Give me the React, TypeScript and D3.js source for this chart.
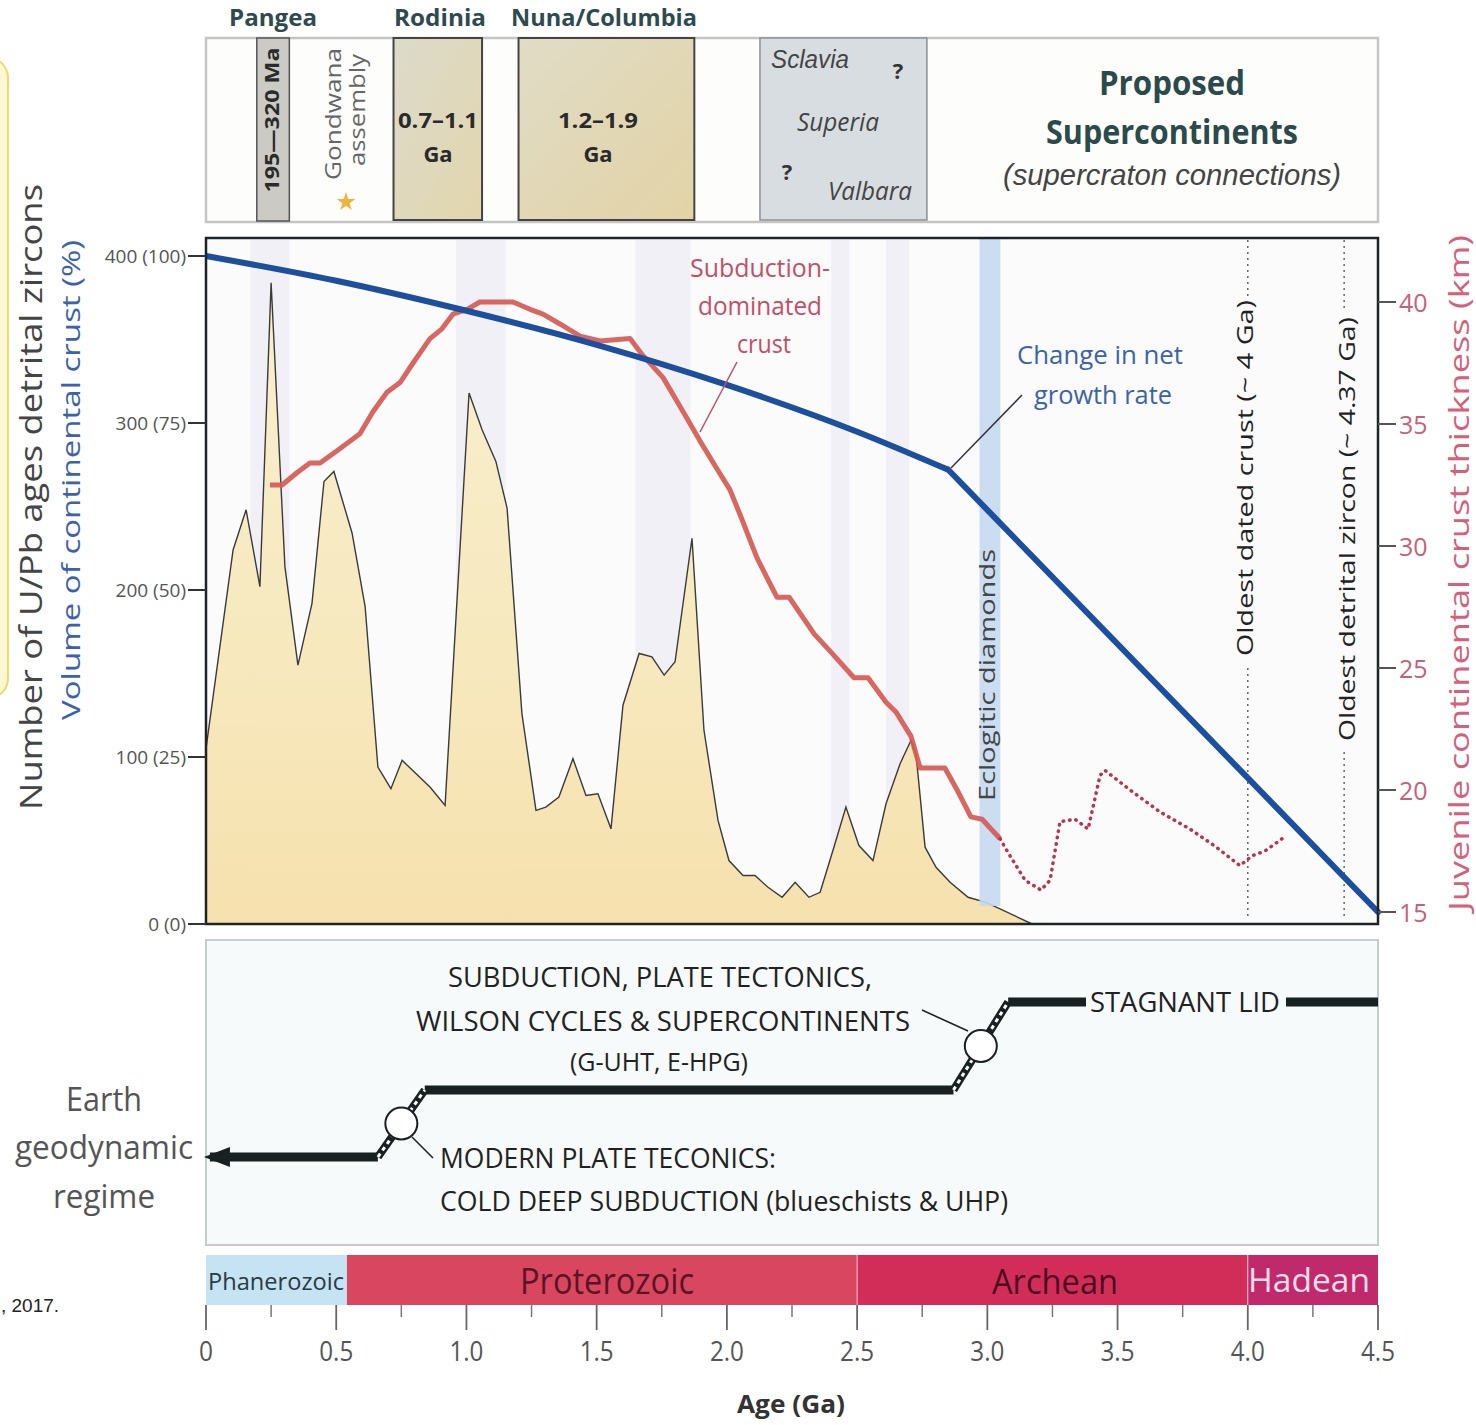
import React from "react";
import * as d3 from "d3";

// ---- data ----
const zirconAge = [0, 0.104, 0.154, 0.207, 0.25, 0.303, 0.353, 0.407, 0.453, 0.491, 0.561, 0.611, 0.66, 0.71, 0.753, 0.86, 0.918, 1.01, 1.06, 1.113, 1.156, 1.213, 1.267, 1.305, 1.355, 1.409, 1.459, 1.505, 1.555, 1.601, 1.663, 1.712, 1.759, 1.801, 1.866, 1.912, 1.966, 2.008, 2.062, 2.108, 2.158, 2.212, 2.262, 2.315, 2.358, 2.411, 2.457, 2.507, 2.561, 2.611, 2.665, 2.707, 2.726, 2.761, 2.803, 2.857, 2.926, 2.995, 3.172];
const zirconCount = [105, 224, 248, 202, 384, 214, 155, 192, 265, 271, 234, 190, 94, 81, 98, 82, 71, 318, 296, 277, 249, 126, 68, 70, 76, 99, 77, 78, 57, 131, 162, 160, 149, 157, 231, 116, 62, 38, 29, 29, 22, 16, 25, 16, 19, 46, 70, 47, 38, 72, 96, 110, 102, 46, 34, 25, 16, 13, 0];

// continental crust volume: smooth growth up to the kink, then straight
const crustAge = [0, 0.5, 1.0, 1.5, 2.0, 2.5, 2.85];
const crustPct = [100, 96.3, 91.8, 86.7, 80.7, 73.7, 68];
const crustAgeLate = [2.85, 4.5];
const crustPctLate = [68, 1.8];

const thickAge = [0.246, 0.292, 0.349, 0.399, 0.438, 0.515, 0.591, 0.641, 0.695, 0.745, 0.795, 0.86, 0.906, 0.948, 1.002, 1.052, 1.179, 1.244, 1.294, 1.359, 1.436, 1.513, 1.628, 1.678, 1.755, 1.832, 1.897, 1.954, 2.012, 2.05, 2.116, 2.192, 2.239, 2.335, 2.404, 2.488, 2.542, 2.611, 2.649, 2.707, 2.742, 2.837, 2.884, 2.937, 2.98, 3.049];
const thickKm = [32.5, 32.5, 33.0, 33.4, 33.4, 34.0, 34.6, 35.5, 36.3, 36.7, 37.5, 38.5, 38.9, 39.5, 39.7, 40.0, 40.0, 39.7, 39.5, 39.1, 38.6, 38.4, 38.5, 37.8, 36.9, 35.5, 34.3, 33.3, 32.3, 31.3, 29.5, 27.9, 27.9, 26.4, 25.6, 24.6, 24.6, 23.6, 23.2, 22.2, 20.9, 20.9, 20.0, 18.9, 18.8, 18.0];

// uncertain (dotted) part of thickness curve
const thickAgeDot = [3.049, 3.076, 3.145, 3.206, 3.241, 3.279, 3.337, 3.387, 3.433, 3.452, 3.548, 3.663, 3.778, 3.874, 3.97, 4.016, 4.066, 4.131];
const thickKmDot = [18.0, 17.5, 16.3, 15.9, 16.3, 18.7, 18.8, 18.4, 20.6, 20.8, 20.0, 19.1, 18.4, 17.7, 16.9, 17.3, 17.5, 18.0];

const bandStart = [0.17, 0.96, 1.65, 2.4, 2.61];
const bandEnd = [0.32, 1.15, 1.86, 2.47, 2.7];

const eraNames = ["Phanerozoic", "Proterozoic", "Archean", "Hadean"];
const eraStart = [0, 0.541, 2.5, 4.0];
const eraEnd = [0.541, 2.5, 4.0, 4.5];

const leftTicks = [0, 100, 200, 300, 400];
const leftTickLabels = ["0 (0)", "100 (25)", "200 (50)", "300 (75)", "400 (100)"];
const rightTicks = [15, 20, 25, 30, 35, 40];
const ageTicks = [0, 0.5, 1.0, 1.5, 2.0, 2.5, 3.0, 3.5, 4.0, 4.5];

// geodynamic regime step line
const regimeAge = [0.015, 0.66, 0.84, 2.87, 3.08, 4.5];
const regimeLevel = [0, 0, 1, 1, 2, 2];

const FONT = "'Open Sans', 'Noto Sans', sans-serif";

const x = d3.scaleLinear().domain([0, 4.5]).range([206, 1378]);
const yCount = d3.scaleLinear().domain([0, 400]).range([924, 256]);
const yPct = d3.scaleLinear().domain([0, 100]).range([924, 256]);
const yKm = d3.scaleLinear().domain([15, 40]).range([912, 302]);
const yLevel = d3.scaleOrdinal<number, number>().domain([0, 1, 2]).range([1157, 1090, 1002]);

function T(props: any) {
  const { x: tx, y: ty, rot, len, children, ...rest } = props;
  const extra: any = len ? { textLength: len, lengthAdjust: "spacingAndGlyphs" } : {};
  if (rot) {
    return (
      <text transform={`translate(${tx},${ty}) rotate(${rot})`} fontFamily={FONT} {...extra} {...rest}>
        {children}
      </text>
    );
  }
  return (
    <text x={tx} y={ty} fontFamily={FONT} {...extra} {...rest}>
      {children}
    </text>
  );
}

export default function App() {
  const zircon = zirconAge.map((a, i) => [a, zirconCount[i]] as [number, number]);
  const area = d3.area<[number, number]>().x((d) => x(d[0])).y0(yCount(0)).y1((d) => yCount(d[1]));
  const line = d3.line<[number, number]>().x((d) => x(d[0])).y((d) => yCount(d[1]));
  const crustLine = d3.line<number>().x((d, i) => x(crustAge[i])).y((d) => yPct(d)).curve(d3.curveMonotoneX);
  const crustLate = d3.line<number>().x((d, i) => x(crustAgeLate[i])).y((d) => yPct(d));
  const thickLine = d3.line<number>().x((d, i) => x(thickAge[i])).y((d) => yKm(d));
  const thickDot = d3.line<number>().x((d, i) => x(thickAgeDot[i])).y((d) => yKm(d));

  const regimePts = regimeAge.map((a, i) => [x(a), yLevel(regimeLevel[i])] as [number, number]);
  const flats: [number, number][][] = [];
  const ramps: [number, number][][] = [];
  for (let i = 0; i < regimePts.length - 1; i++) {
    const seg = [regimePts[i], regimePts[i + 1]];
    if (regimeLevel[i] === regimeLevel[i + 1]) flats.push(seg);
    else ramps.push(seg);
  }
  const minor = d3.range(0.25, 4.5, 0.5);

  return (
    <svg width={1476} height={1425} style={{ position: "absolute", left: 0, top: 0, background: "#fff" }}>
      <defs>
        <linearGradient id="zfill" x1="0" y1="0" x2="0" y2="1">
          <stop offset="0" stopColor="#f8f0d0" />
          <stop offset="0.6" stopColor="#f7e8bd" />
          <stop offset="1" stopColor="#f6e1ae" />
        </linearGradient>
        <linearGradient id="rod" x1="0" y1="0" x2="1" y2="1">
          <stop offset="0" stopColor="#dcdacb" />
          <stop offset="1" stopColor="#e2d6ad" />
        </linearGradient>
        <linearGradient id="nuna" x1="0" y1="0" x2="1" y2="1">
          <stop offset="0" stopColor="#e0dcc6" />
          <stop offset="1" stopColor="#e3d3a6" />
        </linearGradient>
      </defs>

      {/* page artifacts at left edge */}
      <rect x={-30} y={58} width={38} height={640} rx={20} fill="#fff8d2" stroke="#f3d968" strokeWidth={2} />
      <text x={1} y={1312} fontFamily="'Liberation Sans', Arial, sans-serif" fontSize={19} fill="#222">, 2017.</text>

      {/* ---- supercontinent panel ---- */}
      <T x={273} y={26} fontSize={23} fontWeight={700} fill="#2e4a4f" textAnchor="middle" len={88}>Pangea</T>
      <T x={440} y={26} fontSize={23} fontWeight={700} fill="#2e4a4f" textAnchor="middle" len={92}>Rodinia</T>
      <T x={604} y={26} fontSize={23} fontWeight={700} fill="#2e4a4f" textAnchor="middle" len={186}>Nuna/Columbia</T>
      <rect x={206} y={38} width={1172} height={184} fill="#fdfdfc" stroke="#c4c6c4" strokeWidth={2.5} />
      <rect x={x(0.195)} y={38} width={x(0.32) - x(0.195)} height={183} fill="#cbcac4" stroke="#555" strokeWidth={1.5} />
      <T x={272} y={120} rot={-90} fontSize={19} fontWeight={700} fill="#2a2a2a" textAnchor="middle" dominantBaseline="central" len={145}>195—320 Ma</T>
      <T x={332} y={114} rot={-90} fontSize={22} fill="#666" textAnchor="middle" dominantBaseline="central" len={132}>Gondwana</T>
      <T x={356} y={110} rot={-90} fontSize={22} fill="#666" textAnchor="middle" dominantBaseline="central" len={112}>assembly</T>
      <path d={d3.symbol().type(d3.symbolStar).size(110)() as string} transform="translate(346,202)" fill="#f0b43a" />
      <rect x={x(0.72)} y={38} width={x(1.06) - x(0.72)} height={182} fill="url(#rod)" stroke="#444" strokeWidth={2} />
      <T x={438} y={128} fontSize={22} fontWeight={700} fill="#2a2a2a" textAnchor="middle" len={80}>0.7–1.1</T>
      <T x={438} y={162} fontSize={22} fontWeight={700} fill="#2a2a2a" textAnchor="middle">Ga</T>
      <rect x={x(1.2)} y={38} width={x(1.875) - x(1.2)} height={182} fill="url(#nuna)" stroke="#444" strokeWidth={2} />
      <T x={598} y={128} fontSize={22} fontWeight={700} fill="#2a2a2a" textAnchor="middle" len={80}>1.2–1.9</T>
      <T x={598} y={162} fontSize={22} fontWeight={700} fill="#2a2a2a" textAnchor="middle">Ga</T>
      <rect x={x(2.127)} y={38} width={x(2.768) - x(2.127)} height={182} fill="#d8dde2" stroke="#8a9096" strokeWidth={1.5} />
      <T x={771} y={68} fontSize={26} fontStyle="italic" fill="#444" fontFamily="'Liberation Sans', Arial, sans-serif" len={78}>Sclavia</T>
      <T x={898} y={79} fontSize={22} fontWeight={700} fill="#333" textAnchor="middle">?</T>
      <T x={797} y={131} fontSize={26} fontStyle="italic" fill="#444" len={82}>Superia</T>
      <T x={787} y={180} fontSize={22} fontWeight={700} fill="#333" textAnchor="middle">?</T>
      <T x={828} y={200} fontSize={26} fontStyle="italic" fill="#444" len={84}>Valbara</T>
      <T x={1172} y={95} fontSize={34} fontWeight={700} fill="#2c4a4a" textAnchor="middle" len={146}>Proposed</T>
      <T x={1172} y={144} fontSize={34} fontWeight={700} fill="#2c4a4a" textAnchor="middle" len={252}>Supercontinents</T>
      <text x={1172} y={185} fontSize={30} fontStyle="italic" fill="#444" textAnchor="middle" fontFamily="'Liberation Sans', Arial, sans-serif" textLength={338} lengthAdjust="spacingAndGlyphs">(supercraton connections)</text>

      {/* ---- main plot ---- */}
      <rect x={206} y={238} width={1172} height={686} fill="#fbfbfc" />
      {bandStart.map((b, i) => (
        <rect key={i} x={x(b)} y={240} width={x(bandEnd[i]) - x(b)} height={682} fill="#e4e1ee" opacity={0.4} />
      ))}
      <path d={area(zircon) as string} fill="url(#zfill)" />
      <path d={line(zircon) as string} fill="none" stroke="#3a3a3a" strokeWidth={1.4} strokeLinejoin="miter" />
      <rect x={x(2.97)} y={238} width={x(3.05) - x(2.97)} height={668} fill="#c4d9ef" opacity={0.9} />
      <T x={986} y={675} rot={-90} fontSize={22} fill="#444" textAnchor="middle" dominantBaseline="central" len={252}>Eclogitic diamonds</T>

      {/* age markers */}
      <line x1={x(4.0)} x2={x(4.0)} y1={240} y2={296} stroke="#666" strokeWidth={1.5} strokeDasharray="2,4" />
      <line x1={x(4.0)} x2={x(4.0)} y1={668} y2={920} stroke="#666" strokeWidth={1.5} strokeDasharray="2,4" />
      <T x={1244} y={478} rot={-90} fontSize={22} fill="#222" textAnchor="middle" dominantBaseline="central" len={356}>Oldest dated crust (~ 4 Ga)</T>
      <line x1={x(4.37)} x2={x(4.37)} y1={240} y2={310} stroke="#666" strokeWidth={1.5} strokeDasharray="2,4" />
      <line x1={x(4.37)} x2={x(4.37)} y1={752} y2={920} stroke="#666" strokeWidth={1.5} strokeDasharray="2,4" />
      <T x={1346} y={529} rot={-90} fontSize={22} fill="#222" textAnchor="middle" dominantBaseline="central" len={424}>Oldest detrital zircon (~ 4.37 Ga)</T>

      <path d={thickLine(thickKm) as string} fill="none" stroke="#d65a54" strokeWidth={5} strokeLinejoin="round" opacity={0.92} />
      <path d={thickDot(thickKmDot) as string} fill="none" stroke="#b8344f" strokeWidth={3.5} strokeDasharray="0.5,6" strokeLinecap="round" />
      <path d={crustLine(crustPct) as string} fill="none" stroke="#1d4f9f" strokeWidth={6} strokeLinejoin="round" />
      <path d={crustLate(crustPctLate) as string} fill="none" stroke="#1d4f9f" strokeWidth={6} strokeLinejoin="round" strokeLinecap="round" />

      <T x={760} y={277} fontSize={25} fill="#c34f66" textAnchor="middle" len={140}>Subduction-</T>
      <T x={760} y={315} fontSize={25} fill="#c34f66" textAnchor="middle" len={124}>dominated</T>
      <T x={764} y={353} fontSize={25} fill="#c34f66" textAnchor="middle" len={54}>crust</T>
      <line x1={737} y1={362} x2={700} y2={432} stroke="#c34f66" strokeWidth={1.5} />
      <T x={1100} y={364} fontSize={25} fill="#3b63a8" textAnchor="middle" len={166}>Change in net</T>
      <T x={1103} y={404} fontSize={25} fill="#3b63a8" textAnchor="middle" len={138}>growth rate</T>
      <line x1={1022} y1={395} x2={951} y2={468} stroke="#334" strokeWidth={1.5} />

      <rect x={206} y={238} width={1172} height={686} fill="none" stroke="#1e2426" strokeWidth={2.5} />

      {/* left axis */}
      {leftTicks.map((t, i) => (
        <g key={t}>
          <line x1={188} x2={206} y1={yCount(t)} y2={yCount(t)} stroke="#333" strokeWidth={2} />
          <T x={186} y={yCount(t)} fontSize={19} fill="#555" textAnchor="end" dominantBaseline="central">{leftTickLabels[i]}</T>
        </g>
      ))}
      <T x={30} y={497} rot={-90} fontSize={31} fill="#454545" textAnchor="middle" dominantBaseline="central" len={626}>Number of U/Pb ages detrital zircons</T>
      <T x={70} y={480} rot={-90} fontSize={25} fill="#3c62ad" textAnchor="middle" dominantBaseline="central" len={480}>Volume of continental crust (%)</T>

      {/* right axis */}
      {rightTicks.map((t) => (
        <g key={t}>
          <line x1={1378} x2={1396} y1={yKm(t)} y2={yKm(t)} stroke="#555" strokeWidth={2} />
          <T x={1399} y={yKm(t)} fontSize={25} fill="#c8607a" dominantBaseline="central">{t}</T>
        </g>
      ))}
      <T x={1458} y={573} rot={-90} fontSize={28} fill="#d4607a" textAnchor="middle" dominantBaseline="central" len={676}>Juvenile continental crust thickness (km)</T>

      {/* ---- geodynamic regime panel ---- */}
      <rect x={206} y={940} width={1172} height={305} fill="#f7fafa" stroke="#c8cccc" strokeWidth={2} />
      {flats.map((s, i) => (
        <line key={i} x1={s[0][0]} y1={s[0][1]} x2={s[1][0]} y2={s[1][1]} stroke="#192022" strokeWidth={9} />
      ))}
      {ramps.map((s, i) => (
        <g key={i}>
          <line x1={s[0][0]} y1={s[0][1]} x2={s[1][0]} y2={s[1][1]} stroke="#192022" strokeWidth={8} />
          <line x1={s[0][0]} y1={s[0][1]} x2={s[1][0]} y2={s[1][1]} stroke="#fff" strokeWidth={3} strokeDasharray="4,4" />
          <circle cx={(s[0][0] + s[1][0]) / 2} cy={(s[0][1] + s[1][1]) / 2} r={16} fill="#fff" stroke="#192022" strokeWidth={2} />
        </g>
      ))}
      <polygon points={`${x(0.015) - 6},${yLevel(0)} ${x(0.015) + 20},${yLevel(0) - 10} ${x(0.015) + 20},${yLevel(0) + 10}`} fill="#192022" />
      <rect x={1086} y={985} width={200} height={34} fill="#f7fafa" />
      <T x={1090} y={1012} fontSize={27} fill="#222" len={190}>STAGNANT LID</T>
      <line x1={412} y1={1137} x2={433} y2={1158} stroke="#222" strokeWidth={1.6} />
      <line x1={968} y1={1031} x2={922} y2={1010} stroke="#222" strokeWidth={1.6} />
      <T x={660} y={987} fontSize={27} fill="#222" textAnchor="middle" len={424}>SUBDUCTION, PLATE TECTONICS,</T>
      <T x={663} y={1031} fontSize={27} fill="#222" textAnchor="middle" len={494}>WILSON CYCLES &amp; SUPERCONTINENTS</T>
      <T x={659} y={1071} fontSize={25} fill="#222" textAnchor="middle" len={178}>(G-UHT, E-HPG)</T>
      <T x={440} y={1168} fontSize={27} fill="#222" len={336}>MODERN PLATE TECONICS:</T>
      <T x={440} y={1211} fontSize={27} fill="#222" len={568}>COLD DEEP  SUBDUCTION (blueschists &amp; UHP)</T>
      <T x={104} y={1111} fontSize={32} fill="#555" textAnchor="middle" len={76}>Earth</T>
      <T x={104} y={1159} fontSize={32} fill="#555" textAnchor="middle" len={178}>geodynamic</T>
      <T x={104} y={1208} fontSize={32} fill="#555" textAnchor="middle" len={102}>regime</T>

      {/* ---- geologic eons ---- */}
      {eraNames.map((n, i) => (
        <rect key={n} x={x(eraStart[i])} y={1255} width={x(eraEnd[i]) - x(eraStart[i])} height={50}
          fill={["#c5e3f2", "#d9465f", "#d22c58", "#c0296b"][i]} />
      ))}
      <line x1={x(2.5)} x2={x(2.5)} y1={1255} y2={1305} stroke="#f1c6cf" strokeWidth={1} />
      <line x1={x(4.0)} x2={x(4.0)} y1={1255} y2={1305} stroke="#f1c6cf" strokeWidth={1} />
      <T x={208} y={1290} fontSize={24} fill="#2b3a44" len={136}>Phanerozoic</T>
      <T x={607} y={1294} fontSize={36} fill="#5a1426" textAnchor="middle" len={174}>Proterozoic</T>
      <T x={1055} y={1294} fontSize={34} fill="#4a0c1e" textAnchor="middle" len={126}>Archean</T>
      <T x={1309} y={1292} fontSize={33} fill="#f7dde9" textAnchor="middle" len={122}>Hadean</T>

      {/* age axis */}
      {ageTicks.map((t) => (
        <g key={t}>
          <line x1={x(t)} x2={x(t)} y1={1305} y2={1330} stroke="#666" strokeWidth={1.8} />
          <T x={x(t)} y={1361} fontSize={27} fill="#555" textAnchor="middle" len={t === 0 ? 14 : 34}>{t === 0 ? "0" : t.toFixed(1)}</T>
        </g>
      ))}
      {minor.map((t) => (
        <line key={t} x1={x(t)} x2={x(t)} y1={1305} y2={1317} stroke="#777" strokeWidth={1.5} />
      ))}
      <T x={791} y={1413} fontSize={25} fontWeight={700} fill="#333" textAnchor="middle" len={108}>Age (Ga)</T>
    </svg>
  );
}
